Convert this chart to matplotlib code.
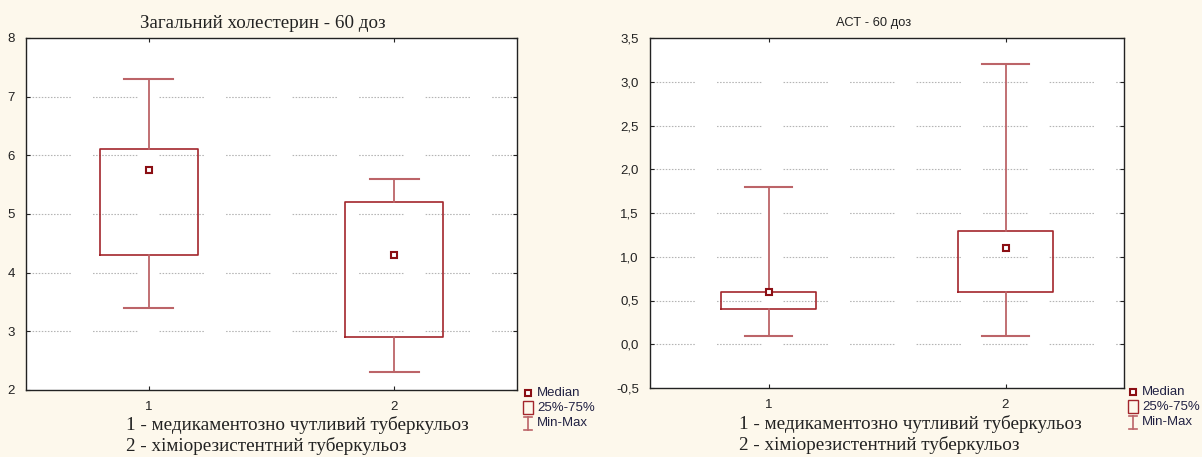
import matplotlib
matplotlib.use("Agg")
import matplotlib.pyplot as plt
from matplotlib.lines import Line2D
from matplotlib.patches import Rectangle
from matplotlib.ticker import FuncFormatter

# data
groups = [1, 2]
chol_min = [3.4, 2.3]
chol_q1 = [4.3, 2.9]
chol_med = [5.75, 4.3]
chol_q3 = [6.1, 5.2]
chol_max = [7.3, 5.6]
chol_ticks = [2, 3, 4, 5, 6, 7, 8]

ast_min = [0.1, 0.1]
ast_q1 = [0.4, 0.6]
ast_med = [0.6, 1.1]
ast_q3 = [0.6, 1.3]
ast_max = [1.8, 3.2]
ast_ticks = [-0.5, 0, 0.5, 1, 1.5, 2, 2.5, 3, 3.5]

legend_labels = ["Median", "25%-75%", "Min-Max"]
caption = ["1 - медикаментозно чутливий туберкульоз",
           "2 - хіміорезистентний туберкульоз"]

BG = "#FDF8EC"
BOX = "#A3262C"
WHISK = "#BC6468"
W, H = 1202, 457

plt.rcParams["lines.scale_dashes"] = False
fig = plt.figure(figsize=(12.02, 4.57), dpi=100, facecolor=BG)


def px(x, y):
    # pixel position -> figure fraction
    return x / W, 1 - y / H


def draw_panel(ax, lo, q1, med, q3, hi, ticks, fmt=None):
    stats = [dict(med=m, q1=a, q3=b, whislo=l, whishi=h, fliers=[])
             for l, a, m, b, h in zip(lo, q1, med, q3, hi)]
    ax.bxp(stats, positions=groups, widths=0.4, capwidths=0.2,
           boxprops=dict(color=BOX, lw=1.2),
           whiskerprops=dict(color=WHISK, lw=1.3),
           capprops=dict(color=WHISK, lw=1.5),
           medianprops=dict(lw=0), manage_ticks=False)
    ax.plot(groups, med, ls="none", marker="s", ms=4.5, mfc="white",
            mec="#8B0F14", mew=1.5, zorder=5)
    ax.set_xlim(0.5, 2.5)
    ax.set_xticks(groups)
    ax.set_ylim(ticks[0], ticks[-1])
    ax.set_yticks(ticks)
    if fmt is not None:
        ax.yaxis.set_major_formatter(FuncFormatter(fmt))
    ax.set_facecolor("white")
    ax.tick_params(direction="in", length=3, top=True, right=True,
                   labelsize=9.5, colors="#222222", pad=8)
    for lab in ax.get_xticklabels() + ax.get_yticklabels():
        lab.set_family("Liberation Sans")
    for s in ax.spines.values():
        s.set_color("#222222")
        s.set_linewidth(1.0)
    # dotted segments with gaps (agg allows at most 32 dash entries)
    dash = [1.1, 1.1] * 14 + [1.1, 16]
    for t in ticks[1:-1]:
        ax.axhline(t, color="#B4B4B4", lw=0.8, dashes=dash, zorder=0)


def draw_legend(x0, y0):
    # small Statistica-style legend block
    xm, ym = px(x0, y0)
    fig.add_artist(Line2D([xm], [ym], marker="s", ms=4.5, mfc="white",
                          mec="#8B0F14", mew=1.5, transform=fig.transFigure))
    bx, by = px(x0 - 5, y0 + 21)
    fig.add_artist(Rectangle((bx, by), 10 / W, 13 / H, fill=False,
                             ec=BOX, lw=1.0, transform=fig.transFigure))
    xa, ya = px(x0, y0 + 24)
    xb, yb = px(x0, y0 + 37)
    fig.add_artist(Line2D([xa, xb], [ya, yb], color=WHISK, lw=1.2,
                          transform=fig.transFigure))
    for yy in (y0 + 24, y0 + 37):
        xl, yl = px(x0 - 4, yy)
        xr, _ = px(x0 + 4, yy)
        fig.add_artist(Line2D([xl, xr], [yl, yl], color=WHISK, lw=1.2,
                              transform=fig.transFigure))
    for i, lab in enumerate(legend_labels):
        tx, ty = px(x0 + 9, y0 + i * 15)
        fig.text(tx, ty, lab, fontsize=9.5, family="Liberation Sans",
                 color="#222244", va="center", ha="left")


# left panel: cholesterol
ax1 = fig.add_axes([26 / W, 1 - 390 / H, 491 / W, 352 / H])
draw_panel(ax1, chol_min, chol_q1, chol_med, chol_q3, chol_max, chol_ticks)
tx, ty = px(263, 23)
fig.text(tx, ty, "Загальний холестерин - 60 доз", family="Liberation Serif",
         fontsize=13.7, ha="center", va="center", color="#222222")

# right panel: AST
ax2 = fig.add_axes([650 / W, 1 - 388 / H, 474 / W, 350 / H])
draw_panel(ax2, ast_min, ast_q1, ast_med, ast_q3, ast_max, ast_ticks,
           fmt=lambda v, p: f"{v:.1f}".replace(".", ","))
tx, ty = px(874, 23)
fig.text(tx, ty, "АСТ - 60 доз", family="Liberation Sans", fontsize=9.3,
         ha="center", va="center", color="#222222")

draw_legend(528, 393)
draw_legend(1133, 392)

for x0, y0 in ((126, 425), (739, 424)):
    for i, line in enumerate(caption):
        tx, ty = px(x0, y0 + i * 21)
        fig.text(tx, ty, line, family="Liberation Serif", fontsize=13.8,
                 color="#222222", va="center", ha="left")

fig.savefig("out.png", dpi=100, facecolor=BG)
